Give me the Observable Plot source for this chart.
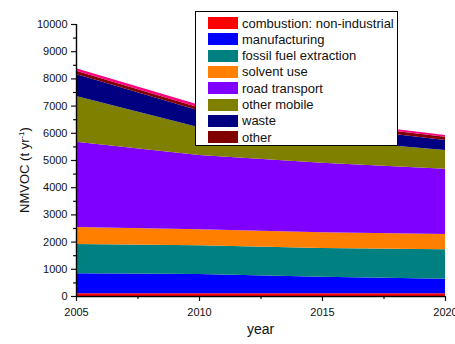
<!DOCTYPE html>
<html>
<head>
<meta charset="utf-8">
<script src="https://cdn.jsdelivr.net/npm/d3@7"></script>
<script src="https://cdn.jsdelivr.net/npm/@observablehq/plot@0.6"></script>
<style>
  html, body { margin: 0; padding: 0; background: white; }
  #wrap { position: relative; width: 455px; height: 344px; font-family: "Liberation Sans", Arial, sans-serif; }
  #legend { position: absolute; left: 195px; top: 11px; width: 203px; height: 135px; border: 1.3px solid black; background: white; box-sizing: border-box; }
  .row { position: absolute; left: 12px; height: 16px; display: flex; align-items: center; font-size: 13px; color: #111; white-space: nowrap; }
  .sw { width: 30px; height: 12px; margin-right: 4px; }
</style>
</head>
<body>
<div id="wrap"></div>
<script>
const years = [2005, 2010, 2015, 2020];
const seriesNames = ["combustion: non-industrial", "manufacturing", "fossil fuel extraction", "solvent use", "road transport", "other mobile", "waste", "other", "unlisted"];
const legendNames = ["combustion: non-industrial", "manufacturing", "fossil fuel extraction", "solvent use", "road transport", "other mobile", "waste", "other"];
const seriesColors = ["#ff0000", "#0000ff", "#008080", "#ff8000", "#8000ff", "#808000", "#000080", "#800000", "#ff0080"];

const combustion = [100, 100, 100, 100];
const manufacturing = [735, 709, 610, 536];
const fossilFuel = [1075, 1055, 1055, 1080];
const solventUse = [627, 588, 577, 563];
const roadTransport = [3136, 2732, 2559, 2401];
const otherMobile = [1680, 1020, 850, 688];
const waste = [810, 620, 520, 367];
const other = [120, 110, 110, 122];
const unlisted = [90, 100, 80, 62];

const yTicks = [0, 1000, 2000, 3000, 4000, 5000, 6000, 7000, 8000, 9000, 10000];
const yMinor = [500, 1500, 2500, 3500, 4500, 5500, 6500, 7500, 8500, 9500];
const xTicks = [2005, 2010, 2015, 2020];
const xMinor = [2007.5, 2012.5, 2017.5];

const valueLists = [combustion, manufacturing, fossilFuel, solventUse, roadTransport, otherMobile, waste, other, unlisted];
const table = seriesNames.flatMap((s, i) => years.map((yr, j) => ({series: s, year: yr, value: valueLists[i][j]})));

const chart = Plot.plot({
  width: 455,
  height: 344,
  marginLeft: 76,
  marginRight: 10,
  marginTop: 24,
  marginBottom: 48,
  style: {fontFamily: "'Liberation Sans', Arial, sans-serif", fontSize: "11px", background: "white", color: "#111"},
  x: {domain: [2005, 2020]},
  y: {domain: [0, 10000]},
  color: {domain: seriesNames, range: seriesColors},
  marks: [
    Plot.areaY(table, {x: "year", y: "value", fill: "series", z: "series"}),
    Plot.axisY({ticks: yTicks, tickSize: 5, tickPadding: 4, tickFormat: d => String(d), label: null, strokeWidth: 1.2}),
    Plot.axisY({ticks: yMinor, tickSize: 3, tickFormat: () => "", label: null, strokeWidth: 1.2}),
    Plot.axisX({ticks: xTicks, tickSize: 5, tickPadding: 7, tickFormat: d => String(d), label: null, strokeWidth: 1.2}),
    Plot.axisX({ticks: xMinor, tickSize: 3, tickFormat: () => "", label: null, strokeWidth: 1.2}),
    Plot.ruleX([2005], {stroke: "black", strokeWidth: 1.4}),
    Plot.ruleY([0], {stroke: "black", strokeWidth: 1.4})
  ]
});

const svg = d3.select(chart);
svg.append("text")
  .attr("x", 260.5).attr("y", 334)
  .attr("text-anchor", "middle")
  .attr("font-size", 14)
  .attr("fill", "#111")
  .text("year");
const yl = svg.append("text")
  .attr("transform", "translate(28.5,170) rotate(-90)")
  .attr("text-anchor", "middle")
  .attr("font-size", 13)
  .attr("fill", "#111");
yl.append("tspan").text("NMVOC (t yr");
yl.append("tspan").attr("font-size", 8).attr("dy", -5).text("-1");
yl.append("tspan").attr("dy", 5).text(")");

const wrap = document.getElementById("wrap");
wrap.appendChild(chart);

const legend = document.createElement("div");
legend.id = "legend";
legendNames.forEach((name, i) => {
  const row = document.createElement("div");
  row.className = "row";
  row.style.top = (3 + i * 16.3) + "px";
  const sw = document.createElement("div");
  sw.className = "sw";
  sw.style.background = seriesColors[seriesNames.indexOf(name)];
  const lab = document.createElement("span");
  lab.textContent = name;
  row.appendChild(sw);
  row.appendChild(lab);
  legend.appendChild(row);
});
wrap.appendChild(legend);
</script>
</body>
</html>
